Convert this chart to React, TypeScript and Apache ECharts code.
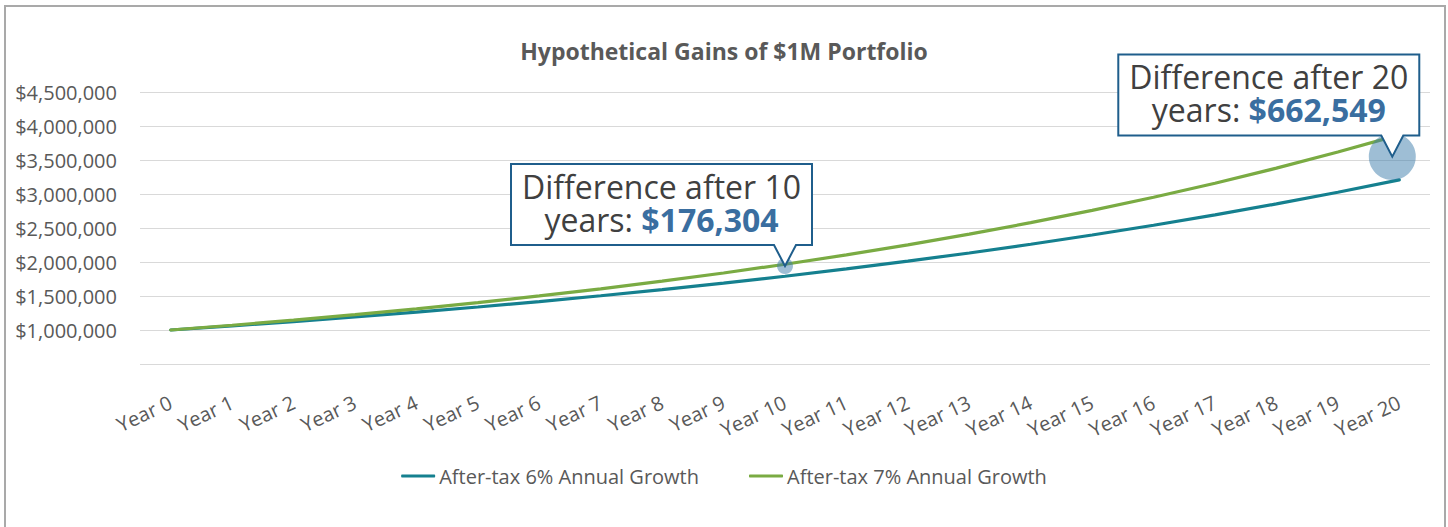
import React, { useEffect, useRef } from "react";
import * as echarts from "echarts";

const categories = [
  "Year 0", "Year 1", "Year 2", "Year 3", "Year 4", "Year 5", "Year 6",
  "Year 7", "Year 8", "Year 9", "Year 10", "Year 11", "Year 12", "Year 13",
  "Year 14", "Year 15", "Year 16", "Year 17", "Year 18", "Year 19", "Year 20",
];

const growth6Name = "After-tax 6% Annual Growth";
const growth7Name = "After-tax 7% Annual Growth";

const growth6 = [
  1000000, 1060000, 1123600, 1191016, 1262477, 1338226, 1418519, 1503630,
  1593848, 1689479, 1790848, 1898299, 2012196, 2132928, 2260904, 2396558,
  2540352, 2692773, 2854339, 3025600, 3207135,
];

const growth7 = [
  1000000, 1070000, 1144900, 1225043, 1310796, 1402552, 1500730, 1605781,
  1718186, 1838459, 1967151, 2104852, 2252192, 2409845, 2578534, 2759032,
  2952164, 3158815, 3379932, 3616528, 3869684,
];

// highlighted differences
const bubbleYears = ["Year 10", "Year 20"];
const bubbleValues = [1941000, 3550000];
const calloutFirstLines = ["Difference after 10", "Difference after 20"];
const calloutPrefix = "years: ";
const calloutAmounts = ["$176,304", "$662,549"];

const yMin = 500000;
const yMax = 4500000;
const yStep = 500000;

const FONT = "'Open Sans', 'Noto Sans', sans-serif";
const C6 = "#15808F";
const C7 = "#7AAB43";
const BUBBLE = "rgba(59,123,170,0.62)";
const BOX_BORDER = "#1F5E8C";
const AMOUNT = "#3A6EA0";
const LABEL = "#595959";
const CALLOUT_TEXT = "#404040";
const CALLOUT_SIZE = 32;

function measure(text: string, bold: boolean): number {
  const c = document.createElement("canvas").getContext("2d");
  if (!c) return text.length * CALLOUT_SIZE * 0.55;
  c.font = (bold ? "bold " : "") + CALLOUT_SIZE + "px " + FONT;
  return c.measureText(text).width;
}

export default function App() {
  const ref = useRef<HTMLDivElement | null>(null);

  useEffect(() => {
    if (!ref.current) return;
    const chart = echarts.init(ref.current, undefined, { renderer: "svg" });

    const bubbleSizes = [16, 47];
    const bubbleOffsets = [
      [0, 0],
      [-7, 0],
    ];

    chart.setOption({
      animation: false,
      title: {
        text: "Hypothetical Gains of $1M Portfolio",
        left: "center",
        top: 34,
        textStyle: {
          fontFamily: FONT,
          fontSize: 23,
          fontWeight: "bold",
          color: LABEL,
        },
      },
      grid: { left: 140, right: 18, top: 92, bottom: 163 },
      legend: {
        data: [growth6Name, growth7Name],
        top: 461,
        left: "center",
        icon: "roundRect",
        itemWidth: 34,
        itemHeight: 3,
        itemGap: 50,
        textStyle: { fontFamily: FONT, fontSize: 20, color: LABEL, padding: [0, 0, 0, -1] },
      },
      xAxis: {
        type: "category",
        data: categories,
        boundaryGap: true,
        axisLine: { show: false },
        axisTick: { show: false },
        axisLabel: {
          rotate: 25,
          margin: 37,
          interval: 0,
          fontFamily: FONT,
          fontSize: 20,
          color: LABEL,
        },
      },
      yAxis: {
        type: "value",
        min: yMin,
        max: yMax,
        interval: yStep,
        axisLine: { show: false },
        axisTick: { show: false },
        splitLine: { lineStyle: { color: "#D9D9D9", width: 1 } },
        axisLabel: {
          margin: 23,
          fontFamily: FONT,
          fontSize: 20,
          color: LABEL,
          formatter: (v: number) =>
            v === yMin ? "" : "$" + v.toLocaleString("en-US"),
        },
      },
      series: [
        {
          name: growth6Name,
          type: "line",
          data: growth6,
          showSymbol: false,
          symbol: "none",
          lineStyle: { color: C6, width: 3.2, cap: "round" },
          itemStyle: { color: C6 },
          z: 2,
        },
        {
          name: growth7Name,
          type: "line",
          data: growth7,
          showSymbol: false,
          symbol: "none",
          lineStyle: { color: C7, width: 3.2, cap: "round" },
          itemStyle: { color: C7 },
          z: 3,
        },
        {
          name: "Difference",
          type: "scatter",
          data: bubbleYears.map((y, i) => ({
            value: [categories.indexOf(y), bubbleValues[i]],
            symbolSize: bubbleSizes[i],
            symbolOffset: bubbleOffsets[i],
          })),
          itemStyle: { color: BUBBLE },
          z: 4,
        },
      ],
    });

    const graphics = bubbleYears.map((y, i) => {
      const p = chart.convertToPixel({ gridIndex: 0 }, [
        categories.indexOf(y),
        bubbleValues[i],
      ]) as number[];
      const ax = p[0] + bubbleOffsets[i][0];
      const ay = p[1] + bubbleOffsets[i][1];
      const L = -274, R = 27, T = -102, B = -21;
      const cx = (L + R) / 2;
      const cy = (T + B) / 2 - 2;
      const w1 = measure(calloutPrefix, false);
      const w2 = measure(calloutAmounts[i], true);
      const splitX = cx - (w1 + w2) / 2 + w1;
      return {
        type: "group",
        x: ax,
        y: ay,
        z: 100,
        children: [
          {
            type: "polygon",
            shape: {
              points: [
                [L, T], [R, T], [R, B], [11, B], [0, 0], [-11, B], [L, B],
              ],
            },
            style: { fill: "#FFFFFF", stroke: BOX_BORDER, lineWidth: 2 },
            z: 100,
          },
          {
            type: "text",
            x: cx,
            y: cy - 16.5,
            z: 101,
            style: {
              text: calloutFirstLines[i],
              align: "center",
              verticalAlign: "middle",
              fill: CALLOUT_TEXT,
              fontFamily: FONT,
              fontSize: CALLOUT_SIZE,
            },
          },
          {
            type: "text",
            x: splitX,
            y: cy + 16.5,
            z: 101,
            style: {
              text: calloutPrefix,
              align: "right",
              verticalAlign: "middle",
              fill: CALLOUT_TEXT,
              fontFamily: FONT,
              fontSize: CALLOUT_SIZE,
            },
          },
          {
            type: "text",
            x: splitX,
            y: cy + 16.5,
            z: 101,
            style: {
              text: calloutAmounts[i],
              align: "left",
              verticalAlign: "middle",
              fill: AMOUNT,
              fontFamily: FONT,
              fontSize: CALLOUT_SIZE,
              fontWeight: "bold",
            },
          },
        ],
      };
    });

    chart.setOption({ graphic: graphics });

    return () => chart.dispose();
  }, []);

  return (
    <div style={{ position: "fixed", left: 0, top: 0, width: 1448, height: 527, background: "#fff", overflow: "hidden" }}>
      <div ref={ref} style={{ position: "absolute", left: 0, top: 0, width: 1448, height: 527 }} />
      <div
        style={{
          position: "absolute",
          left: 4,
          top: 5,
          width: 1442,
          height: 540,
          boxSizing: "border-box",
          border: "2px solid #A9A9A9",
          pointerEvents: "none",
        }}
      />
    </div>
  );
}
